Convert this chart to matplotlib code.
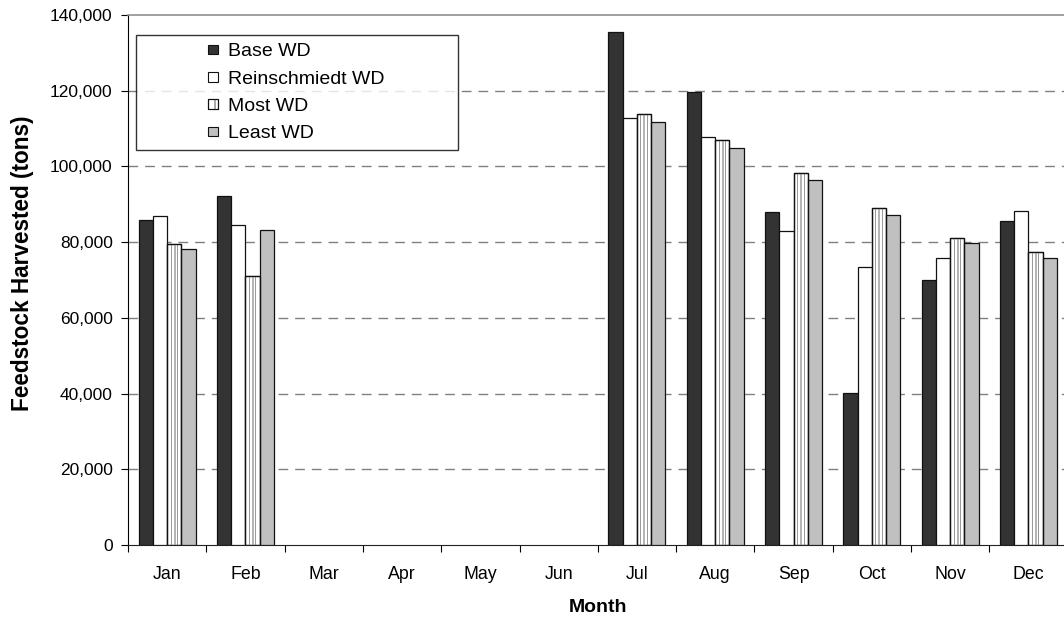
import matplotlib
matplotlib.use("Agg")
import matplotlib.pyplot as plt
import numpy as np
from matplotlib.patches import Rectangle
from matplotlib.legend_handler import HandlerBase
from matplotlib.ticker import FuncFormatter, FixedLocator

plt.rcParams['font.family'] = ['Liberation Sans', 'DejaVu Sans']

months = ["Jan", "Feb", "Mar", "Apr", "May", "Jun", "Jul", "Aug", "Sep", "Oct", "Nov", "Dec"]
series_names = ["Base WD", "Reinschmiedt WD", "Most WD", "Least WD"]
base_wd = [85900, 92100, 0, 0, 0, 0, 135500, 119700, 88000, 40100, 70000, 85600]
reinschmiedt_wd = [86900, 84500, 0, 0, 0, 0, 112800, 107700, 82900, 73500, 75900, 88300]
most_wd = [79600, 71000, 0, 0, 0, 0, 113800, 106900, 98300, 89100, 81000, 77300]
least_wd = [78100, 83200, 0, 0, 0, 0, 111700, 104900, 96500, 87300, 79700, 75900]
y_ticks = [0, 20000, 40000, 60000, 80000, 100000, 120000, 140000]

series = [base_wd, reinschmiedt_wd, most_wd, least_wd]
faces = ["#333333", "#ffffff", "#ffffff", "#c0c0c0"]

W, H = 1064, 622
fig = plt.figure(figsize=(W / 100, H / 100), dpi=100)
ax = fig.add_axes([128 / W, 1 - 545 / H, 939.6 / W, 530 / H])

x = np.arange(len(months))
bw = 1 / 5.5
offsets = [-1.5, -0.5, 0.5, 1.5]
for vals, face, off in zip(series, faces, offsets):
    pos = x + off * bw
    v = np.array(vals, dtype=float)
    mask = v > 0
    ax.bar(pos[mask], v[mask], width=bw, color=face, edgecolor="#111111",
           linewidth=0.9, zorder=3)
    if face == "#ffffff" and off == 0.5:
        # vertical stripe pattern of the "Most WD" bars
        for frac, sw, col in [(-0.22, 0.07, "#9a9a9a"), (0.02, 0.14, "#b5b5b5"), (0.24, 0.07, "#9a9a9a")]:
            ax.bar(pos[mask] + frac * bw, v[mask] - 250, width=sw * bw, color=col,
                   linewidth=0, zorder=3.5)
        ax.bar(pos[mask], v[mask], width=bw, facecolor="none", edgecolor="#111111",
               linewidth=0.9, zorder=4)

ax.set_xlim(-0.5, len(months) - 0.5)
ax.set_ylim(0, 140000)

ax.yaxis.set_major_locator(FixedLocator(y_ticks))
ax.yaxis.set_major_formatter(FuncFormatter(lambda v, p: f"{int(v):,}"))
ax.tick_params(axis="y", direction="out", length=5, width=0.8, pad=6, labelsize=12.5, colors="#000000")
ax.set_xticks(x)
ax.set_xticklabels(months)
ax.set_xticks(np.arange(len(months) + 1) - 0.5, minor=True)
ax.tick_params(axis="x", which="major", length=0, pad=15, labelsize=12.8)
ax.tick_params(axis="x", which="minor", direction="out", length=5, width=0.8)

for yv in y_ticks[1:-1]:
    ax.axhline(yv, color="#808080", linewidth=1.0, linestyle=(0, (7, 5)), zorder=1)

ax.spines["right"].set_visible(False)
ax.spines["top"].set_color("#909090")
ax.spines["top"].set_linewidth(1.2)
ax.spines["left"].set_color("#000000")
ax.spines["bottom"].set_color("#222222")

ax.set_ylabel("Feedstock Harvested (tons)", fontsize=16.3, fontweight="bold")
ax.yaxis.set_label_coords(-0.1, 0.532)
ax.set_xlabel("Month", fontsize=14, fontweight="bold", labelpad=12)


class SquareHandler(HandlerBase):
    def __init__(self, face, striped=False):
        super().__init__()
        self.face = face
        self.striped = striped

    def create_artists(self, legend, orig_handle, xdescent, ydescent, width, height, fontsize, trans):
        s = 7.0
        x0 = width - s - xdescent
        y0 = (height - s) / 2 - ydescent
        arts = [Rectangle((x0, y0), s, s, facecolor=self.face, edgecolor="#111111", linewidth=0.8, transform=trans)]
        if self.striped:
            arts.append(Rectangle((x0 + s * 0.55, y0), s * 0.22, s, facecolor="#a8a8a8", edgecolor="none", transform=trans))
            arts.append(Rectangle((x0, y0), s, s, facecolor="none", edgecolor="#111111", linewidth=0.8, transform=trans))
        return arts


handles = [Rectangle((0, 0), 1, 1) for _ in series_names]
handler_map = {h: SquareHandler(f, striped=(i == 2)) for i, (h, f) in enumerate(zip(handles, faces))}
leg = fig.legend(handles, series_names, loc="upper left",
                 bbox_to_anchor=(136 / W, 1 - 35 / H - 0.2, (458 - 136) / W, 0.2), mode="expand",
                 frameon=True, fancybox=False, fontsize=14, handlelength=3.82, handletextpad=0.5,
                 labelspacing=0.5, borderpad=0.4, borderaxespad=0, handler_map=handler_map)
leg.get_frame().set_edgecolor("#000000")
leg.get_frame().set_linewidth(1.0)
leg.set_zorder(10)

fig.savefig("out.png", dpi=100)
